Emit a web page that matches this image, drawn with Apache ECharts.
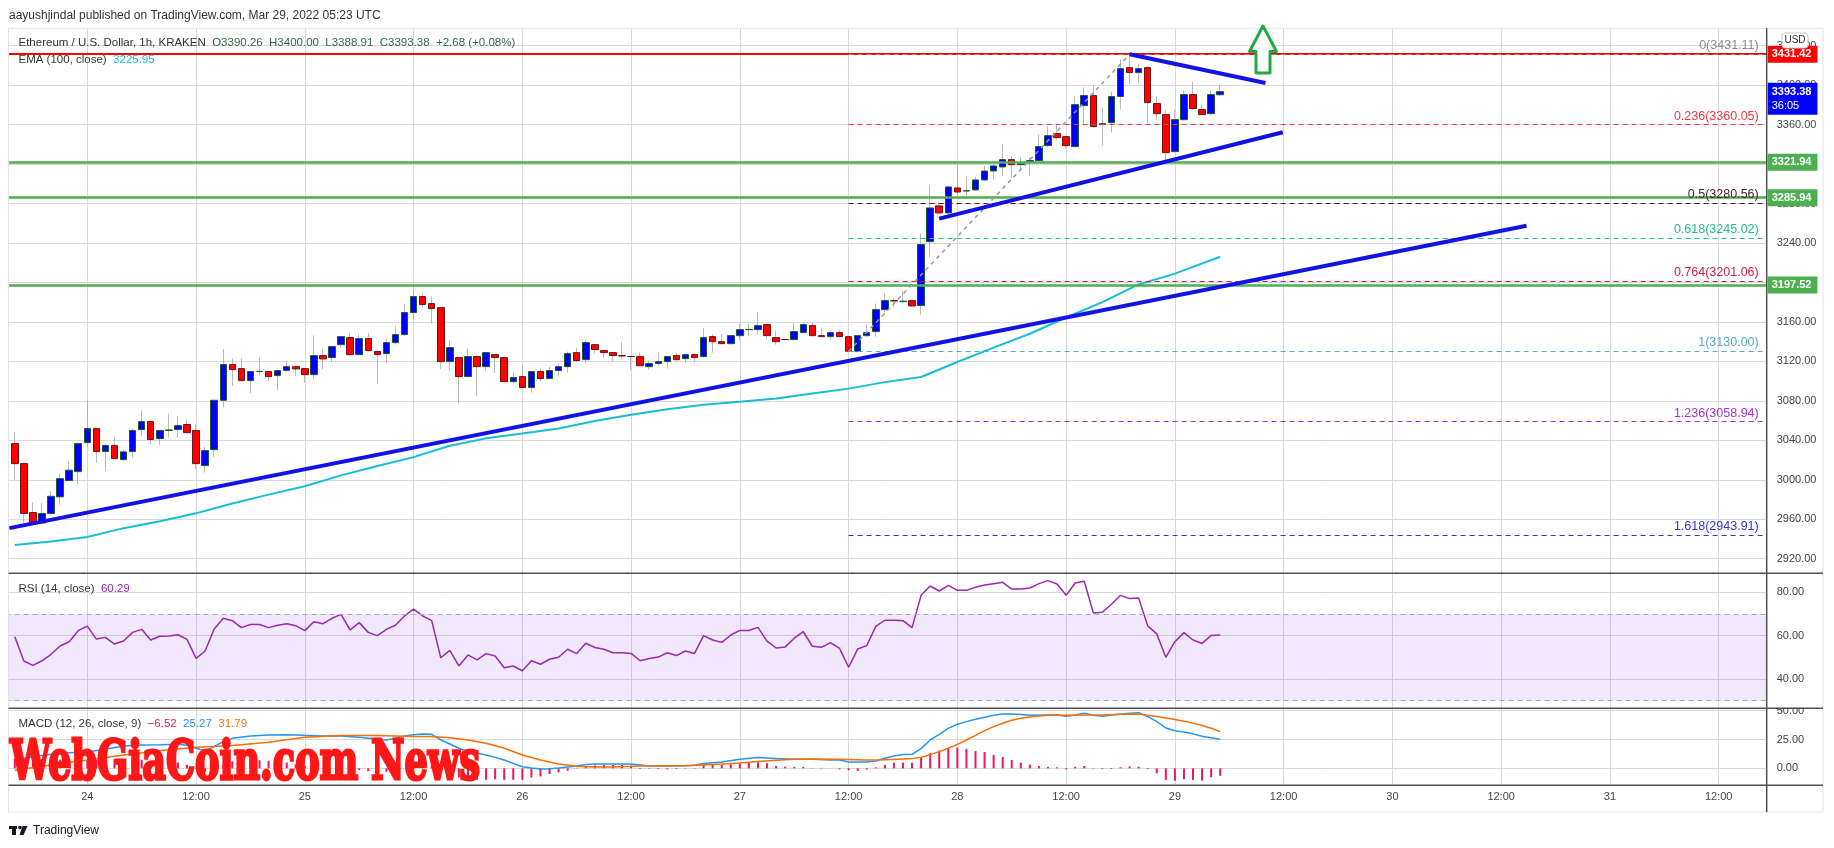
<!DOCTYPE html>
<html>
<head>
<meta charset="utf-8">
<title>ETH/USD 1h</title>
<script src="https://cdn.jsdelivr.net/npm/echarts@6.0.0/dist/echarts.min.js"></script>
<style>
html, body { margin: 0; padding: 0; background: #fff; }
#chart { width: 1834px; height: 848px; }
</style>
</head>
<body>
<div id="chart"></div>
<script>
// hourly bars, first one is Mar 23 16:00 (hour -8 relative to Mar 24 00:00)
const firstHour = -8;
const dayStart = 24;

const candleOpen = [
  3036.7, 3016.4, 2966.8, 2956.3, 2965.8, 2982.7, 2999.2, 3008.3,
  3037.7, 3051.9, 3028.6, 3034.7, 3020.5, 3028.6, 3050.9, 3059.0, 3041.8, 3050.0, 3050.9, 3056.0,
  3049.9, 3014.4, 3030.6, 3080.6, 3116.8, 3112.7, 3100.5, 3109.7, 3109.7, 3105.6, 3110.7, 3114.7,
  3112.7, 3106.6, 3125.9, 3123.9, 3137.0, 3144.1, 3126.9, 3143.1, 3130.0, 3127.9, 3139.0, 3147.2,
  3169.5, 3185.7, 3178.6, 3174.5, 3119.8, 3123.9, 3104.6, 3124.9, 3114.7, 3126.9, 3123.9, 3099.5,
  3104.6, 3093.5, 3109.7, 3102.6, 3110.7, 3114.7, 3128.9, 3121.8, 3137.0, 3131.0, 3128.9, 3125.9,
  3125.0, 3124.9, 3114.7, 3117.8, 3119.8, 3125.9, 3122.8, 3126.9, 3124.9, 3145.1, 3140.0, 3138.0,
  3146.1, 3152.2, 3152.2, 3157.3, 3144.1, 3142.2, 3142.1, 3149.2, 3156.3, 3146.1, 3145.1, 3149.2,
  3145.1, 3130.3, 3146.1, 3150.2, 3172.5, 3181.6, 3180.6, 3181.6, 3176.6, 3241.4, 3277.6, 3270.5,
  3295.8, 3292.7, 3293.8, 3303.9, 3313.0, 3317.1, 3324.5, 3319.4, 3321.5, 3323.5, 3338.7, 3350.9,
  3347.8, 3337.7, 3379.2, 3389.4, 3360.0, 3362.0, 3388.4, 3417.7, 3412.7, 3417.7, 3381.3, 3370.1,
  3332.6, 3365.0, 3390.4, 3375.2, 3371.1, 3390.26
];
const candleHigh = [
  3048.5, 3017.5, 2977.2, 2976.6, 2988.7, 3006.3, 3018.8, 3038.4,
  3080.6, 3052.0, 3036.7, 3043.1, 3030.6, 3052.0, 3070.5, 3059.0, 3050.0, 3067.1, 3065.0, 3061.4,
  3056.0, 3033.3, 3081.0, 3132.3, 3122.8, 3122.8, 3110.0, 3124.2, 3110.0, 3111.7, 3119.8, 3115.7,
  3113.0, 3146.5, 3133.0, 3135.0, 3145.5, 3148.5, 3147.5, 3148.5, 3131.3, 3143.1, 3155.6, 3178.6,
  3192.1, 3188.7, 3186.0, 3175.0, 3141.4, 3124.0, 3133.0, 3126.0, 3129.0, 3127.0, 3124.0, 3109.7,
  3115.7, 3110.0, 3112.7, 3114.7, 3117.8, 3130.0, 3134.0, 3141.0, 3137.0, 3131.0, 3129.0, 3139.4,
  3125.5, 3128.9, 3120.8, 3128.9, 3125.0, 3128.0, 3127.0, 3128.0, 3153.6, 3147.5, 3148.2, 3146.2,
  3158.3, 3158.3, 3169.8, 3157.3, 3151.2, 3142.5, 3159.0, 3159.3, 3159.0, 3154.3, 3151.2, 3152.2,
  3145.5, 3146.5, 3157.3, 3178.6, 3188.7, 3184.7, 3192.1, 3183.0, 3249.5, 3298.5, 3281.6, 3297.0,
  3320.5, 3308.0, 3307.0, 3318.1, 3319.1, 3340.0, 3328.6, 3326.5, 3327.5, 3349.8, 3358.0, 3360.0,
  3348.0, 3388.4, 3397.5, 3399.5, 3377.2, 3393.4, 3425.9, 3431.1, 3421.8, 3419.0, 3388.4, 3375.2,
  3375.2, 3394.4, 3403.6, 3380.2, 3394.4, 3400.0
];
const candleLow = [
  3000.6, 2956.3, 2955.0, 2955.5, 2964.0, 2974.5, 2999.0, 2995.2,
  3033.3, 3017.1, 3009.0, 3021.0, 3019.0, 3022.5, 3044.5, 3036.0, 3035.3, 3042.8, 3042.8, 3047.0,
  3010.4, 3007.0, 3023.2, 3073.2, 3095.0, 3100.0, 3088.0, 3105.6, 3100.5, 3091.0, 3110.0, 3105.6,
  3098.2, 3102.2, 3112.0, 3119.5, 3133.7, 3126.0, 3126.5, 3130.0, 3097.2, 3118.5, 3137.0, 3146.0,
  3162.4, 3174.5, 3158.3, 3112.4, 3110.3, 3077.2, 3104.0, 3085.0, 3110.7, 3108.3, 3099.0, 3097.5,
  3093.0, 3088.4, 3099.5, 3102.0, 3104.6, 3108.7, 3119.8, 3117.8, 3128.0, 3123.9, 3119.8, 3121.8,
  3110.7, 3115.0, 3111.7, 3115.7, 3112.7, 3120.8, 3118.8, 3119.8, 3124.0, 3128.9, 3137.8, 3137.0,
  3141.1, 3146.1, 3147.2, 3142.1, 3137.0, 3141.5, 3142.0, 3149.0, 3146.0, 3145.0, 3142.1, 3145.0,
  3130.0, 3130.0, 3145.1, 3145.1, 3167.4, 3175.3, 3179.0, 3175.2, 3167.4, 3225.2, 3269.4, 3269.4,
  3288.4, 3287.7, 3292.7, 3303.0, 3303.9, 3308.0, 3306.0, 3313.0, 3308.0, 3322.5, 3337.7, 3344.8,
  3335.6, 3337.0, 3360.0, 3357.0, 3338.7, 3351.9, 3375.2, 3401.5, 3402.5, 3362.0, 3364.0, 3322.5,
  3332.0, 3364.0, 3375.0, 3370.0, 3370.0, 3388.91
];
const candleClose = [
  3016.4, 2965.8, 2956.3, 2965.8, 2983.3, 3001.2, 3009.7, 3036.7,
  3051.9, 3028.6, 3034.7, 3021.5, 3028.3, 3049.9, 3059.0, 3040.8, 3049.9, 3050.5, 3054.9, 3047.8,
  3016.4, 3029.6, 3080.6, 3116.8, 3111.7, 3100.5, 3109.7, 3109.9, 3104.6, 3110.7, 3114.7, 3112.4,
  3106.6, 3125.9, 3122.5, 3135.0, 3145.1, 3126.9, 3143.1, 3131.0, 3126.9, 3139.0, 3147.2, 3169.5,
  3185.7, 3177.6, 3173.5, 3119.8, 3134.0, 3104.6, 3124.9, 3114.7, 3128.9, 3123.9, 3099.5, 3103.6,
  3093.5, 3109.7, 3102.6, 3110.7, 3114.7, 3127.9, 3120.8, 3139.0, 3132.0, 3128.9, 3125.9, 3125.5,
  3124.9, 3115.7, 3117.8, 3119.8, 3124.9, 3121.8, 3126.9, 3123.9, 3144.1, 3140.0, 3138.0, 3146.1,
  3152.2, 3152.4, 3156.3, 3146.1, 3140.0, 3142.1, 3150.2, 3157.3, 3146.1, 3145.1, 3149.2, 3145.1,
  3130.3, 3146.1, 3149.2, 3172.5, 3181.6, 3181.3, 3181.0, 3176.2, 3238.4, 3275.5, 3270.5, 3296.8,
  3291.7, 3293.0, 3303.9, 3313.0, 3318.1, 3324.5, 3319.4, 3320.4, 3323.5, 3337.7, 3348.8, 3346.8,
  3338.7, 3380.2, 3389.4, 3358.0, 3361.0, 3388.4, 3416.7, 3412.7, 3416.7, 3382.3, 3371.1, 3331.6,
  3365.0, 3390.4, 3376.2, 3370.1, 3390.4, 3393.38
];

// EMA(100) at a few hours
const emaPoints = [
  [-8, 2934], [-4, 2937.5], [0, 2942], [4, 2951], [8, 2958], [12, 2966], [16, 2976], [20, 2985],
  [24, 2993.5], [28, 3004.5], [32, 3014], [36, 3023], [40, 3034.5], [44, 3042], [48, 3047], [52, 3052],
  [56, 3059.5], [60, 3066], [64, 3071.5], [68, 3076], [72, 3079], [76, 3082.5], [80, 3087.5], [84, 3092.4],
  [88, 3099], [92, 3104.2], [96, 3119.4], [100, 3134], [104, 3148], [108, 3164.5], [112, 3180], [116, 3198],
  [120, 3209], [125, 3226]
];

const rsiValues = [
  59.5, 48.3, 46.3, 48.4, 51.4, 55.2, 57.2, 62.3,
  64.4, 58.4, 59.2, 56.1, 57.5, 61.5, 62.9, 58.0, 59.7, 59.8, 60.4, 58.3,
  49.5, 52.9, 63.1, 68.0, 66.9, 63.7, 65.1, 65.1, 63.7, 64.8, 65.5, 64.6,
  62.3, 66.4, 65.5, 68.0, 69.8, 62.6, 66.0, 61.5, 60.0, 62.9, 64.8, 69.1,
  72.2, 69.1, 66.9, 49.8, 53.2, 46.0, 51.1, 48.8, 51.7, 50.6, 45.2, 46.0,
  43.8, 48.4, 46.8, 49.1, 50.0, 53.7, 51.7, 56.5, 54.5, 53.7, 52.1, 52.1,
  51.8, 48.4, 49.4, 50.1, 52.1, 50.8, 52.9, 51.8, 60.0, 58.0, 56.9, 60.3,
  62.4, 62.4, 63.8, 57.5, 54.3, 54.8, 58.8, 61.8, 55.1, 54.6, 56.8, 54.1,
  45.4, 53.8, 55.4, 64.3, 67.1, 67.1, 66.9, 63.7, 78.6, 82.9, 80.6, 83.2,
  80.9, 80.9, 82.3, 83.4, 84.0, 84.6, 81.5, 81.5, 82.0, 84.0, 85.4, 83.8,
  78.6, 84.3, 85.1, 70.5, 70.8, 74.5, 78.6, 77.1, 77.4, 64.5, 60.8, 50.0,
  57.2, 61.4, 58.0, 56.4, 60.1, 60.3
];

const macdPoints = [
  [-8, 7.2], [-6, 10.1], [-4, 12.2], [-2, 13.6], [0, 14.2], [2, 16.5], [4, 19.4], [6, 20.3], [8, 20.5],
  [10, 20.8], [11, 20.0], [12, 17.4], [13, 15.3], [14, 18.8], [15, 23.1], [16, 26.0], [18, 28.1], [20, 28.9],
  [22, 29.2], [24, 28.6], [26, 28.1], [28, 28.1], [30, 26.9], [32, 25.2], [33, 24.6], [34, 26.0], [35, 28.1],
  [36, 29.2], [37, 29.8], [38, 29.5], [39, 24.6], [40, 21.1], [41, 17.4], [42, 14.5], [43, 13.0], [44, 11.6],
  [45, 9.5], [46, 7.2], [47, 4.3], [48, 1.4], [49, 0.3], [50, -0.6], [51, -0.3], [52, 0.3], [53, 1.2],
  [54, 2.0], [55, 3.2], [56, 3.8], [58, 3.8], [60, 3.8], [62, 2.0], [64, 2.0], [66, 2.3], [67, 2.6],
  [68, 4.1], [70, 5.5], [72, 7.8], [74, 9.3], [76, 8.4], [78, 7.8], [80, 7.8], [82, 7.2], [83, 7.2],
  [84, 5.5], [86, 5.5], [87, 6.4], [88, 8.7], [89, 10.7], [90, 11.9], [91, 12.2], [92, 17.1], [93, 24.6],
  [94, 29.5], [95, 34.7], [96, 38.2], [97, 40.5], [98, 42.5], [99, 44.3], [100, 46.0], [101, 47.2], [102, 47.2],
  [103, 46.6], [104, 46.0], [106, 46.3], [107, 46.3], [108, 45.1], [109, 46.3], [110, 47.7], [111, 46.0],
  [112, 45.1], [113, 46.3], [114, 47.0], [115, 47.7], [116, 48.3], [117, 45.0], [118, 40.5], [119, 35.0],
  [120, 32.6], [121, 31.5], [122, 29.9], [123, 27.8], [124, 26.5], [125, 25.3]
];
const signalPoints = [
  [-8, -1.7], [-4, 2.9], [0, 7.2], [4, 11.6], [8, 15.3], [12, 18.2], [16, 19.7], [20, 22.6], [24, 26.9],
  [28, 28.4], [32, 28.4], [36, 27.5], [38, 27.5], [40, 26.6], [42, 24.6], [44, 21.7], [46, 17.4], [48, 11.6],
  [50, 7.2], [52, 3.8], [54, 1.7], [56, 1.2], [58, 1.2], [60, 1.7], [62, 2.3], [66, 2.3], [70, 3.8],
  [72, 4.6], [74, 5.8], [76, 6.9], [78, 7.8], [80, 8.1], [83, 7.8], [86, 7.2], [88, 7.5], [90, 8.1],
  [91, 8.4], [92, 9.5], [93, 11.9], [94, 14.5], [95, 17.4], [96, 20.8], [97, 24.6], [98, 28.6], [99, 32.7],
  [100, 36.2], [101, 39.1], [102, 41.7], [103, 43.4], [104, 44.6], [105, 45.4], [106, 46.0], [107, 46.3],
  [108, 46.0], [110, 46.3], [112, 46.3], [114, 46.9], [116, 47.2], [117, 46.0], [118, 45.0], [119, 43.7],
  [120, 42.3], [121, 40.8], [122, 39.2], [123, 37.2], [124, 34.8], [125, 31.8]
];
const histValues = [
  8.5, 8.5, 8.5, 8, 8, 7.5, 7.5, 7,
  7, 7.5, 8, 8, 8, 8, 7.5, 6.5, 5.5, 5, 5, 3,
  -0.5, -3, -1, 3, 6, 7, 7.5, 7, 6.5, 6, 5, 3.5,
  2, 1, 0.5, 0, -0.3, -1, -1.5, -2.5, -3, -3, -2, 0,
  1.5, 2.2, 2, -2, -5, -8, -9.5, -10, -10, -9.5, -10, -10,
  -10, -8, -7, -5, -3.5, -2, 0.3, 1.5, 2.5,
  2.9, 2.9, 2.9, 2.3, -0.6, -0.3, -0.6, -0.9, -0.6, -0.3, -0.3,
  2.9, 2.9, 2.9, 3.5, 4.1, 4.9, 5.2, 4.3, 2.0, 1.4, 1.2, 1.2,
  0.3, 0.3, 0, -0.9, -1.7, -2.3, -1.2, 0.9, 2.9, 4.9, 4.9, 4.9,
  9.3, 13.0, 15.3, 17.4, 17.9, 16.8, 15.0, 14.2, 11.6, 9.8, 7.2, 4.9,
  3.2, 2.0, 1.2, 0.9, -0.9, 1.2, 2.0, 0.3, -0.6, -0.6, 0.9, 1.7,
  1.4, -0.6, -4.3, -10.1, -10.7, -9.5, -10.1, -10.7, -7.8, -6.5
];

// drawings: [hour, price]
const trendLong = [[-8.6, 2951.0], [158.8, 3257.5]];
const trendUp = [[94.0, 3264.7], [131.9, 3352.2]];
const trendDown = [[115.0, 3431.3], [130.0, 3402.2]];
const fibDiagonal = [[84, 3130.0], [115, 3431.11]];

const fibStartHour = 84;
const fibRatios = ['0', '0.236', '0.5', '0.618', '0.764', '1', '1.236', '1.618'];
const fibPrices = [3431.11, 3360.05, 3280.56, 3245.02, 3201.06, 3130.00, 3058.94, 2943.91];
const fibColors = ['#8c8c8c', '#ee3a3a', '#4e1c1c', '#22c08e', '#cf1d3f', '#58a4d6', '#a235c8', '#3434d0'];

const redLevel = 3431.42;
const greenLevels = [3321.94, 3285.94, 3197.52];
const lastPrice = 3393.38;
const lastCountdown = '36:05';

// layout (pixels) and axis ranges
const FONT = '"Liberation Sans", Arial, sans-serif';
const X_MIN = -12, X_MAX = 185.3;
const GRID_LEFT = -21.45, GRID_RIGHT = 67.3;
const PRICE_MIN = 2880, PRICE_MAX = 3457.6;
const RSI_MIN = 20, RSI_MAX = 88.77;
const MACD_MIN = -25, MACD_MAX = 52.08;
const GRID_COLOR = '#d9d9d9';
const AXIS_TEXT = '#444';

const chart = echarts.init(document.getElementById('chart'));

const wickData = candleOpen.map((o, i) => [firstHour + i, o, candleClose[i], candleLow[i], candleHigh[i]]);
const bodyData = candleOpen.map((o, i) => [firstHour + i, o, candleClose[i], Math.min(o, candleClose[i]), Math.max(o, candleClose[i])]);

function timeLabel(v) {
    const h = Math.round(v);
    if (Math.abs(v - h) > 1e-6) return '';
    const m = ((h % 24) + 24) % 24;
    if (m === 0) return String(dayStart + h / 24);
    if (m === 12) return '12:00';
    return '';
}

function priceAxis(gridIndex, min, max, interval, shown) {
    return {
        type: 'value', gridIndex, position: 'right', min, max, interval,
        axisLine: { show: false }, axisTick: { show: false },
        splitLine: { show: true, showMinLine: false, showMaxLine: false, lineStyle: { color: GRID_COLOR, width: 1 } },
        axisLabel: {
            margin: 10, color: AXIS_TEXT, fontSize: 11, fontFamily: FONT,
            formatter: v => (shown.indexOf(v) >= 0 ? v.toFixed(2) : '')
        }
    };
}

function hiddenX(gridIndex) {
    return { type: 'value', gridIndex, min: X_MIN, max: X_MAX, show: false };
}

function boxLabel(text, bg) {
    return {
        show: true, position: 'end', distance: 1, formatter: text,
        backgroundColor: bg, color: '#fff', fontWeight: 'bold', fontSize: 11, fontFamily: FONT,
        lineHeight: 13, padding: [2, 6, 2, 4]
    };
}

const priceTicks = [];
for (let p = 2920; p <= 3440; p += 40) priceTicks.push(p);

const levelLines = [
    { yAxis: redLevel, lineStyle: { color: '#ff0000', width: 2, type: 'solid' }, label: boxLabel(redLevel.toFixed(2), '#ff0000') },
    ...greenLevels.map(v => ({ yAxis: v, lineStyle: { color: '#4caf50', width: 2.5, type: 'solid' }, label: boxLabel(v.toFixed(2), '#4caf50') })),
    {
        yAxis: lastPrice, lineStyle: { color: 'rgba(0,0,0,0)', width: 0 },
        label: {
            show: true, position: 'end', distance: 1, offset: [0, 7],
            formatter: '{a|' + lastPrice.toFixed(2) + '}\n{b|' + lastCountdown + '}',
            backgroundColor: '#0000ff', padding: [2, 6, 2, 4],
            rich: {
                a: { color: '#fff', fontWeight: 'bold', fontSize: 11, fontFamily: FONT, lineHeight: 14 },
                b: { color: '#fff', fontSize: 11, fontFamily: FONT, lineHeight: 14 }
            }
        }
    }
];
const fibLines = fibPrices.map((p, i) => [
    {
        coord: [fibStartHour, p],
        lineStyle: { color: fibColors[i], width: 1, type: [5, 4] },
        label: {
            show: true, position: 'insideEndTop', distance: [8, 2],
            formatter: fibRatios[i] + '(' + p.toFixed(2) + ')',
            color: fibColors[i], fontSize: 12.5, fontFamily: FONT
        }
    },
    { coord: [X_MAX, p] }
]);

function txt(x, y, text, fill, size, extra) {
    return {
        type: 'text', x, y, z: 60, silent: true,
        style: Object.assign({
            text, fill, font: size + 'px ' + FONT,
            textAlign: 'left', textVerticalAlign: 'middle', align: 'left', verticalAlign: 'middle'
        }, extra || {})
    };
}

// watermark width fitted with a measured scale
const WATERMARK = 'WebGiaCoin.com News';
const wmFont = 'bold 54px "DejaVu Serif", serif';
const measureCtx = document.createElement('canvas').getContext('2d');
measureCtx.font = wmFont;
const wmScale = 470 / measureCtx.measureText(WATERMARK).width;

const sepLine = y => ({ type: 'line', z: 55, silent: true, shape: { x1: 8.5, y1: y, x2: 1823, y2: y }, style: { stroke: '#505050', lineWidth: 1.5 } });

const option = {
    animation: false,
    backgroundColor: '#fff',
    grid: [
        { left: GRID_LEFT, right: GRID_RIGHT, top: 28.3, bottom: 62.7, containLabel: false, outerBoundsMode: 'none' },
        { left: GRID_LEFT, right: GRID_RIGHT, top: 28.3, height: 569.9, containLabel: false, outerBoundsMode: 'none' },
        { left: GRID_LEFT, right: GRID_RIGHT, top: 573.3, height: 149, containLabel: false, outerBoundsMode: 'none' },
        { left: GRID_LEFT, right: GRID_RIGHT, top: 708.3, height: 88.8, containLabel: false, outerBoundsMode: 'none' }
    ],
    xAxis: [
        {
            type: 'value', gridIndex: 0, min: X_MIN, max: X_MAX, interval: 12,
            axisLine: { show: false }, axisTick: { show: false },
            splitLine: { show: true, lineStyle: { color: GRID_COLOR, width: 1 } },
            axisLabel: { margin: 6, color: AXIS_TEXT, fontSize: 11, fontFamily: FONT, formatter: timeLabel }
        },
        hiddenX(1), hiddenX(2), hiddenX(3)
    ],
    yAxis: [
        { type: 'value', gridIndex: 0, show: false },
        priceAxis(1, PRICE_MIN, PRICE_MAX, 40, priceTicks),
        priceAxis(2, RSI_MIN, RSI_MAX, 20, [40, 60, 80]),
        priceAxis(3, MACD_MIN, MACD_MAX, 25, [0, 25, 50])
    ],
    series: [
        {
            name: 'wick', type: 'candlestick', xAxisIndex: 1, yAxisIndex: 1, z: 2, silent: true,
            dimensions: ['hour', 'open', 'close', 'low', 'high'],
            encode: { x: 'hour', y: ['open', 'close', 'low', 'high'] },
            data: wickData, barWidth: 1,
            itemStyle: { color: '#a8a8a8', color0: '#a8a8a8', borderColor: '#a8a8a8', borderColor0: '#a8a8a8', borderWidth: 0.8 }
        },
        {
            name: 'body', type: 'candlestick', xAxisIndex: 1, yAxisIndex: 1, z: 3, silent: true,
            dimensions: ['hour', 'open', 'close', 'low', 'high'],
            encode: { x: 'hour', y: ['open', 'close', 'low', 'high'] },
            data: bodyData, barWidth: 7,
            itemStyle: { color: '#0000ff', color0: '#ff0000', borderColor: '#1e5b26', borderColor0: '#6e1414', borderWidth: 1 }
        },
        {
            name: 'EMA', type: 'line', xAxisIndex: 1, yAxisIndex: 1, z: 4, silent: true,
            data: emaPoints, symbol: 'none', lineStyle: { color: '#17bdd6', width: 2 },
            markLine: {
                silent: true, symbol: ['none', 'none'], animation: false,
                data: levelLines.concat(fibLines)
            }
        },
        {
            type: 'line', xAxisIndex: 1, yAxisIndex: 1, z: 5, silent: true, symbol: 'none',
            data: fibDiagonal, lineStyle: { color: '#9a9a9a', width: 1.5, type: [4, 4] }
        },
        ...[trendLong, trendUp, trendDown].map(d => ({
            type: 'line', xAxisIndex: 1, yAxisIndex: 1, z: 6, silent: true, symbol: 'none',
            data: d, lineStyle: { color: '#1212e6', width: 4 }
        })),
        {
            name: 'RSI', type: 'line', xAxisIndex: 2, yAxisIndex: 2, z: 4, silent: true, symbol: 'none',
            data: rsiValues.map((v, i) => [firstHour + i, v]),
            lineStyle: { color: '#9c27b0', width: 1.5 },
            markArea: {
                silent: true, itemStyle: { color: 'rgba(155, 80, 225, 0.13)' },
                data: [[{ yAxis: 30 }, { yAxis: 70 }]]
            },
            markLine: {
                silent: true, symbol: ['none', 'none'], label: { show: false },
                lineStyle: { color: '#b1a3c6', width: 1, type: [5, 4] },
                data: [{ yAxis: 70 }, { yAxis: 30 }]
            }
        },
        {
            name: 'Histogram', type: 'bar', xAxisIndex: 3, yAxisIndex: 3, z: 3, silent: true,
            data: histValues.map((v, i) => [firstHour + i, v]), barWidth: 2,
            itemStyle: { color: '#f0155c' }
        },
        {
            name: 'MACD', type: 'line', xAxisIndex: 3, yAxisIndex: 3, z: 4, silent: true, symbol: 'none',
            data: macdPoints, lineStyle: { color: '#2196f3', width: 1.5 }
        },
        {
            name: 'Signal', type: 'line', xAxisIndex: 3, yAxisIndex: 3, z: 4, silent: true, symbol: 'none',
            data: signalPoints, lineStyle: { color: '#ff6d00', width: 1.5 }
        }
    ],
    graphic: [
        { type: 'rect', z: 50, silent: true, shape: { x: 0, y: 0, width: 8.5, height: 848 }, style: { fill: '#fff' } },
        { type: 'rect', z: 50, silent: true, shape: { x: 1768, y: 696, width: 54, height: 11.5 }, style: { fill: '#fff' } },
        { type: 'rect', z: 55, silent: true, shape: { x: 8.5, y: 28.3, width: 1814.5, height: 783.7 }, style: { fill: 'none', stroke: '#e0e3eb', lineWidth: 1 } },
        sepLine(573.3), sepLine(708.3), sepLine(785.3),
        { type: 'line', z: 55, silent: true, shape: { x1: 1766.7, y1: 28.3, x2: 1766.7, y2: 812 }, style: { stroke: '#505050', lineWidth: 1.5 } },

        txt(9, 15.5, 'aayushjindal published on TradingView.com, Mar 29, 2022 05:23 UTC', '#333', 12),
        txt(18.5, 42.7, 'Ethereum / U.S. Dollar, 1h, KRAKEN  {g|O3390.26  H3400.00  L3388.91  C3393.38  +2.68 (+0.08%)}', '#333', 11.5, {
            rich: { g: { fill: '#2f6a45', font: '11.5px ' + FONT } }
        }),
        txt(18.5, 59.5, 'EMA (100, close)  {c|3225.95}', '#333', 11.5, {
            rich: { c: { fill: '#17bdd6', font: '11.5px ' + FONT } }
        }),
        txt(18.5, 589, 'RSI (14, close)  {p|60.29}', '#333', 11.5, {
            rich: { p: { fill: '#9c27b0', font: '11.5px ' + FONT } }
        }),
        txt(18.5, 724, 'MACD (12, 26, close, 9)  {h|\u22126.52}  {m|25.27}  {s|31.79}', '#333', 11.5, {
            rich: {
                h: { fill: '#f0155c', font: '11.5px ' + FONT },
                m: { fill: '#2196f3', font: '11.5px ' + FONT },
                s: { fill: '#ff6d00', font: '11.5px ' + FONT }
            }
        }),

        {
            type: 'group', x: 1782, y: 33, z: 60, silent: true,
            children: [
                { type: 'rect', z: 60, shape: { x: 0, y: 0, width: 26, height: 15, r: 3 }, style: { fill: '#fff', stroke: '#c8c8c8', lineWidth: 1 } },
                { type: 'text', z: 61, style: { text: 'USD', x: 13, y: 7.5, font: '10px ' + FONT, fill: '#333', textAlign: 'center', textVerticalAlign: 'middle', align: 'center', verticalAlign: 'middle' } }
            ]
        },

        {
            type: 'polygon', z: 60, silent: true,
            shape: { points: [[1263, 26], [1276.5, 51.5], [1270, 51.5], [1270, 73], [1256, 73], [1256, 51.5], [1249.5, 51.5]] },
            style: { fill: '#fff', stroke: '#22a946', lineWidth: 3, lineJoin: 'round' }
        },

        {
            type: 'text', x: 10, y: 765, scaleX: wmScale, z: 70, silent: true,
            style: {
                text: WATERMARK, x: 0, y: 0, font: wmFont, fill: '#ff1717', stroke: '#ff1717', lineWidth: 3,
                textAlign: 'left', textVerticalAlign: 'middle', align: 'left', verticalAlign: 'middle'
            }
        },

        { type: 'rect', z: 60, silent: true, shape: { x: 9, y: 826, width: 8, height: 3 }, style: { fill: '#131722' } },
        { type: 'rect', z: 60, silent: true, shape: { x: 12, y: 826, width: 4, height: 9 }, style: { fill: '#131722' } },
        { type: 'circle', z: 60, silent: true, shape: { cx: 20, cy: 827.6, r: 1.8 }, style: { fill: '#131722' } },
        { type: 'polygon', z: 60, silent: true, shape: { points: [[22.5, 826], [27.5, 826], [23.5, 835], [19.5, 835]] }, style: { fill: '#131722' } },
        txt(33, 830.5, 'TradingView', '#131722', 12)
    ]
};

chart.setOption(option);
</script>
</body>
</html>
